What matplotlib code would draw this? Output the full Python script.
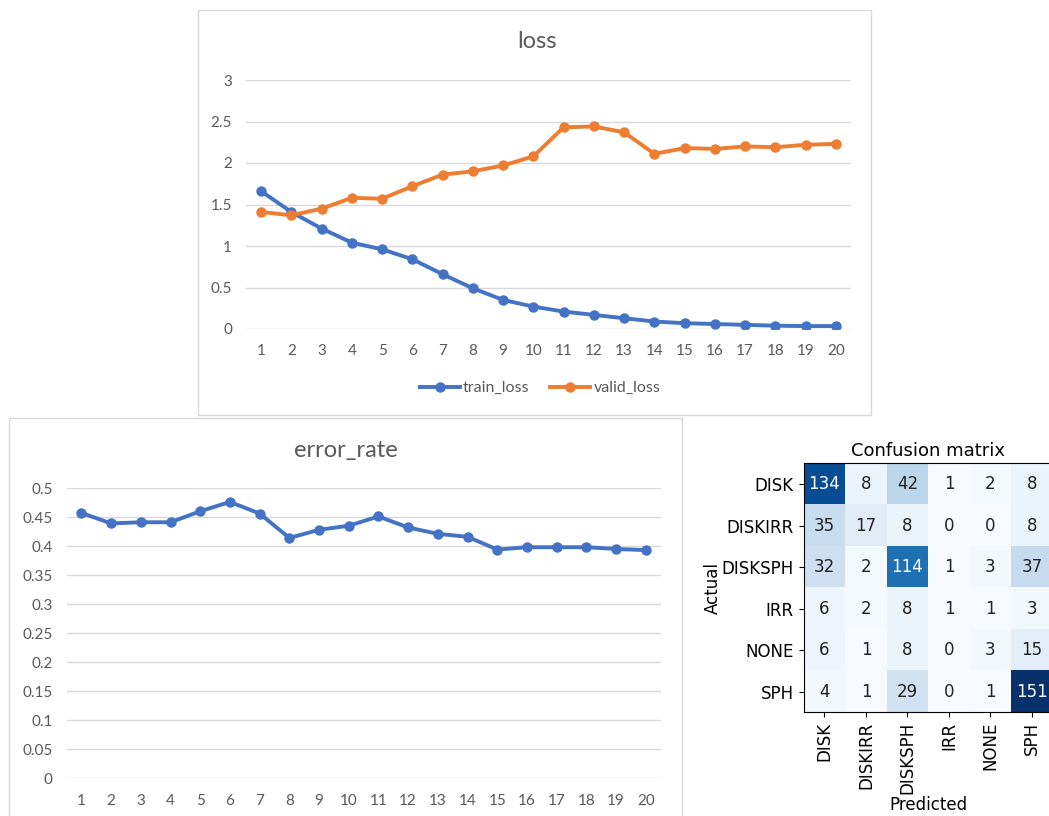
import numpy as np
import matplotlib.pyplot as plt
from matplotlib.patches import Rectangle

# values
epochs = list(range(1, 21))
train_loss = [1.66, 1.41, 1.21, 1.04, 0.96, 0.84, 0.66, 0.49, 0.35, 0.27,
              0.21, 0.17, 0.13, 0.09, 0.07, 0.06, 0.05, 0.04, 0.035, 0.035]
valid_loss = [1.41, 1.37, 1.45, 1.58, 1.57, 1.72, 1.86, 1.90, 1.97, 2.08,
              2.43, 2.44, 2.37, 2.11, 2.18, 2.17, 2.20, 2.19, 2.22, 2.23]
error_rate = [0.457, 0.439, 0.441, 0.441, 0.460, 0.476, 0.456, 0.414, 0.428, 0.435,
              0.451, 0.432, 0.421, 0.416, 0.394, 0.398, 0.398, 0.398, 0.395, 0.393]
loss_ticks = [0, 0.5, 1, 1.5, 2, 2.5, 3]
error_ticks = [0, 0.05, 0.1, 0.15, 0.2, 0.25, 0.3, 0.35, 0.4, 0.45, 0.5]

classes = ['DISK', 'DISKIRR', 'DISKSPH', 'IRR', 'NONE', 'SPH']
conf = np.array([[134, 8, 42, 1, 2, 8],
                 [35, 17, 8, 0, 0, 8],
                 [32, 2, 114, 1, 3, 37],
                 [6, 2, 8, 1, 1, 3],
                 [6, 1, 8, 0, 3, 15],
                 [4, 1, 29, 0, 1, 151]])

W, H = 1049, 816
BLUE = '#4472C4'
ORANGE = '#ED7D31'
GREY = '#595959'
GRID = '#D9D9D9'
XL_FONT = 'Lato'

fig = plt.figure(figsize=(W / 100, H / 100), dpi=100)


def px_box(x0, y0, x1, y1):
    # pixel box (y going down) -> figure fractions
    return [x0 / W, 1 - y1 / H, (x1 - x0) / W, (y1 - y0) / H]


def frame(x0, y0, x1, y1):
    l, b, w, h = px_box(x0, y0, x1, y1)
    fig.add_artist(Rectangle((l, b), w, h, transform=fig.transFigure,
                             fill=False, ec=GRID, lw=1))


def excel_axes(ax, ticks):
    ax.set_xlim(0.5, 20.5)
    ax.set_ylim(ticks[0], ticks[-1])
    ax.set_yticks(ticks)
    ax.set_yticklabels(['%g' % t for t in ticks])
    ax.set_xticks(epochs)
    ax.grid(axis='y', color=GRID, lw=1)
    ax.set_axisbelow(True)
    for s in ax.spines.values():
        s.set_visible(False)
    ax.tick_params(length=0, labelsize=11, labelcolor=GREY)
    ax.tick_params(axis='y', pad=10)
    ax.tick_params(axis='x', pad=11)
    for lab in ax.get_xticklabels() + ax.get_yticklabels():
        lab.set_fontfamily(XL_FONT)


# loss chart
frame(198, 10, 871, 415)
ax1 = fig.add_axes(px_box(246, 80, 851, 329))
ax1.plot(epochs, train_loss, color=BLUE, lw=2.8, marker='o', ms=6.5, label='train_loss')
ax1.plot(epochs, valid_loss, color=ORANGE, lw=2.8, marker='o', ms=6.5, label='valid_loss')
excel_axes(ax1, loss_ticks)
fig.text(537 / W, 1 - 42 / H, 'loss', ha='center', va='center',
         fontsize=17, color=GREY, family=XL_FONT)
fig.legend(loc='center', bbox_to_anchor=(540 / W, 1 - 388 / H), ncol=2, frameon=False,
           handlelength=2.5, handletextpad=0.2, columnspacing=1.3,
           prop={'family': XL_FONT, 'size': 11.5}, labelcolor=GREY)

# error rate chart
frame(9, 418, 682, 830)
ax2 = fig.add_axes(px_box(66.6, 488, 660.6, 778.3))
ax2.plot(epochs, error_rate, color=BLUE, lw=2.8, marker='o', ms=6.5)
excel_axes(ax2, error_ticks)
fig.text(346 / W, 1 - 450 / H, 'error_rate', ha='center', va='center',
         fontsize=17, color=GREY, family=XL_FONT)

# confusion matrix
ax3 = fig.add_axes(px_box(803.7, 463.3, 1052.7, 712.3))
ax3.imshow(conf, cmap='Blues', aspect='auto', interpolation='nearest')
thresh = conf.max() / 2
for i in range(len(classes)):
    for j in range(len(classes)):
        ax3.text(j, i, conf[i, j], ha='center', va='center', fontsize=12,
                 color='white' if conf[i, j] > thresh else '#222222')
ax3.set_xticks(range(len(classes)))
ax3.set_yticks(range(len(classes)))
ax3.set_xticklabels(classes, rotation=90, fontsize=12)
ax3.set_yticklabels(classes, fontsize=12)
ax3.set_title('Confusion matrix', fontsize=13, pad=5)
ax3.set_xlabel('Predicted', fontsize=12, labelpad=1)
ax3.set_ylabel('Actual', fontsize=12, labelpad=0)

fig.savefig('out.png', dpi=100)
